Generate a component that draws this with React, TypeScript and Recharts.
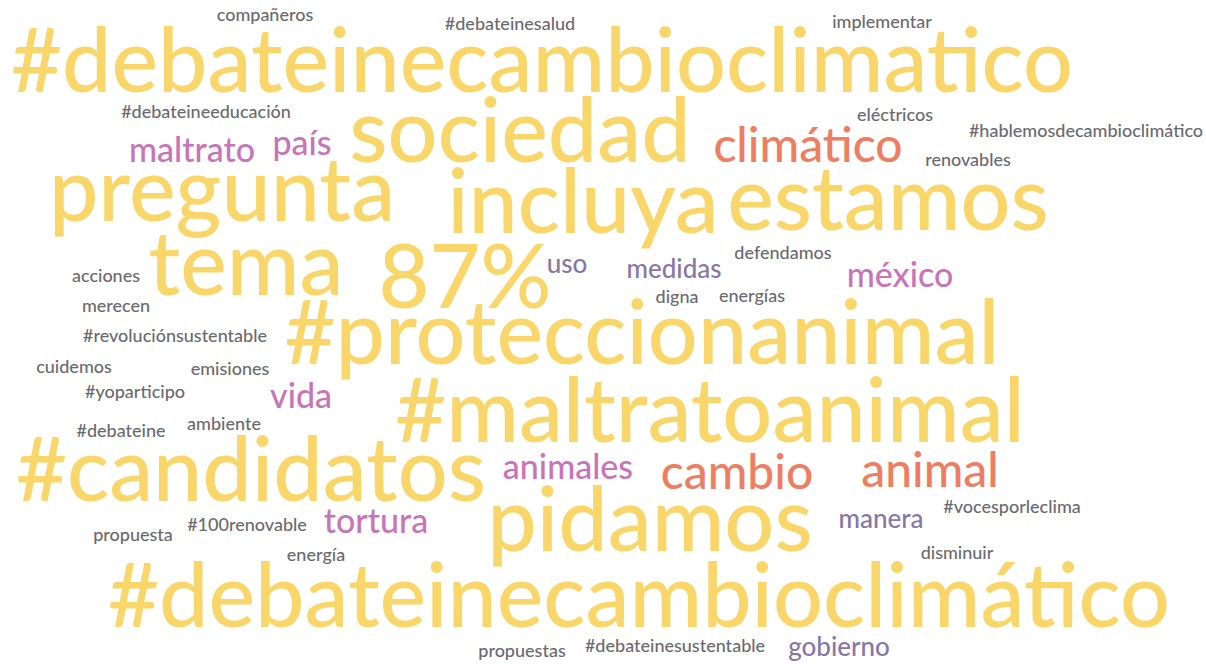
import { ScatterChart, Scatter, XAxis, YAxis } from 'recharts';

// word cloud: each word has a count and a spot in the cloud (x = centre, y = baseline)
const words = [
  '#debateinecambioclimatico', 'compañeros', '#debateinesalud', 'implementar', '#debateineeducación',
  'eléctricos', '#hablemosdecambioclimático', 'maltrato', 'país', 'sociedad',
  'climático', 'renovables', 'pregunta', 'incluya', 'estamos',
  'tema', '87%', 'uso', 'medidas', 'defendamos',
  'méxico', 'acciones', 'merecen', 'digna', 'energías',
  '#proteccionanimal', '#revoluciónsustentable', 'cuidemos', 'emisiones', '#yoparticipo',
  'vida', '#maltratoanimal', '#debateine', 'ambiente', '#candidatos',
  'animales', 'cambio', 'animal', '#vocesporleclima', 'pidamos',
  'manera', 'tortura', '#100renovable', 'propuesta', 'energía',
  'disminuir', '#debateinecambioclimático', 'propuestas', '#debateinesustentable', 'gobierno',
];

const counts = [
  44, 9, 9, 9, 9,
  9, 9, 17, 17, 44,
  24, 9, 44, 44, 44,
  44, 44, 13, 13, 9,
  17, 9, 9, 9, 9,
  44, 9, 9, 9, 9,
  17, 44, 9, 9, 44,
  17, 24, 24, 9, 44,
  13, 17, 9, 9, 9,
  9, 44, 9, 9, 13,
];

const cloudX = [
  542, 265, 510, 882, 206,
  895, 1086, 192, 302, 520,
  808, 968, 222, 583, 888,
  246, 465, 567, 674, 783,
  900, 106, 116, 677, 752,
  642, 175, 74, 230, 135,
  301, 710, 121, 224, 251,
  568, 737, 930, 1012, 650,
  881, 376, 247, 133, 316,
  957, 639, 522, 675, 839,
];

const cloudY = [
  92, 21, 30, 28, 118,
  121, 137, 162, 155, 162,
  162, 166, 221, 233, 230,
  295, 308, 273, 278, 259,
  287, 282, 312, 303, 302,
  364, 342, 373, 375, 398,
  408, 442, 437, 430, 501,
  479, 489, 487, 513, 551,
  528, 533, 531, 541, 561,
  559, 627, 657, 652, 656,
];

const data = words.map((word, i) => ({ word, count: counts[i], x: cloudX[i], y: cloudY[i] }));

function colorFor(count: number) {
  if (count >= 40) return '#F9D66A';
  if (count >= 20) return '#EE7E61';
  if (count >= 15) return '#C874B8';
  if (count >= 11) return '#8677A6';
  return '#6A6A6E';
}

function Word(props: any) {
  const { cx, cy, payload } = props;
  return (
    <text
      x={cx}
      y={cy}
      textAnchor="middle"
      fontSize={payload.count * 2}
      fontFamily="Lato, 'Open Sans', sans-serif"
      fontWeight={500}
      fill={colorFor(payload.count)}
    >
      {payload.word}
    </text>
  );
}

export default function App() {
  return (
    <div style={{ position: 'absolute', left: 0, top: 0, background: '#fff' }}>
      <ScatterChart width={1206} height={664} margin={{ top: 0, right: 0, bottom: 0, left: 0 }}>
        <XAxis type="number" dataKey="x" domain={[0, 1206]} hide />
        <YAxis type="number" dataKey="y" domain={[0, 664]} reversed hide />
        <Scatter data={data} shape={(p: any) => <Word {...p} />} isAnimationActive={false} />
      </ScatterChart>
    </div>
  );
}
